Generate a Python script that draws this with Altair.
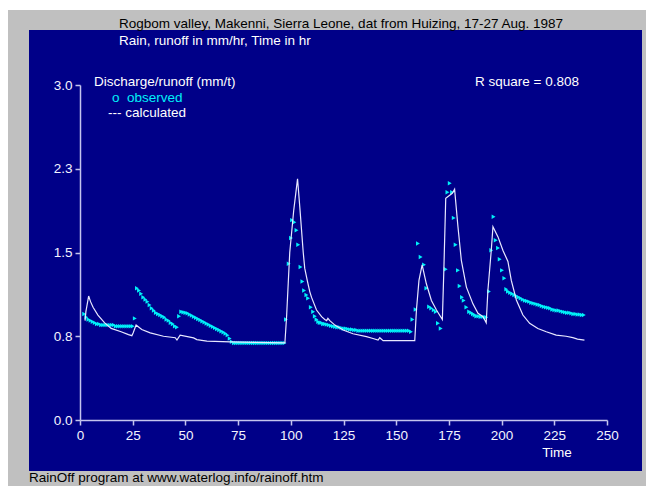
import altair as alt
import pandas as pd

# ---------------- observed discharge (mm/hr) ----------------
obs_hours_a = list(range(2, 98))
obs_values_a = [
    0.95, 0.92, 0.90, 0.89, 0.88, 0.87, 0.86, 0.86, 0.85, 0.85,
    0.85, 0.85, 0.85, 0.85, 0.85, 0.84, 0.84, 0.84, 0.84, 0.84,
    0.84, 0.84, 0.84, 0.84, 0.91, 1.18, 1.16, 1.13, 1.10, 1.08,
    1.06, 1.03, 1.00, 0.98, 0.96, 0.95, 0.94, 0.93, 0.92, 0.90,
    0.89, 0.87, 0.86, 0.84, 0.83, 0.93, 0.97, 0.965, 0.96, 0.955,
    0.945, 0.935, 0.925, 0.915, 0.905, 0.895, 0.885, 0.875, 0.865, 0.855,
    0.845, 0.835, 0.825, 0.815, 0.805, 0.795, 0.785, 0.775, 0.76, 0.73,
    0.70, 0.69, 0.69, 0.69, 0.69, 0.69, 0.69, 0.69, 0.69, 0.69,
    0.69, 0.69, 0.69, 0.69, 0.69, 0.69, 0.69, 0.69, 0.69, 0.69,
    0.69, 0.69, 0.69, 0.69, 0.69, 0.69,
]
obs_time_b = [97.7, 99.0, 100.1, 100.6, 101.7, 102.7, 103.5, 104.6, 105.5, 106.3,
              107.4, 108.2, 109.5, 110.6, 111.4, 112.2, 113.0, 113.7, 114.5, 115.3,
              116.1, 117.0, 118.0]
obs_values_b = [0.90, 1.40, 1.63, 1.79, 1.77, 1.70, 1.57, 1.37, 1.24, 1.16,
                1.12, 1.09, 1.01, 0.97, 0.93, 0.90, 0.88, 0.87, 0.87, 0.86,
                0.86, 0.855, 0.85]
obs_hours_c = list(range(119, 157))
obs_values_c = [
    0.845, 0.84, 0.835, 0.83, 0.83, 0.825, 0.82, 0.82, 0.815, 0.81,
    0.81, 0.805, 0.805, 0.80, 0.80, 0.80, 0.80, 0.80, 0.80, 0.80,
    0.80, 0.80, 0.80, 0.80, 0.80, 0.80, 0.80, 0.80, 0.80, 0.80,
    0.80, 0.80, 0.80, 0.80, 0.80, 0.80, 0.80, 0.80,
]
obs_time_d = [157.0, 157.7, 159.2, 160.3, 161.6, 163.2, 164.3, 165.6, 166.6, 167.8,
              168.8, 169.8, 171.1, 173.5, 174.3, 175.4, 176.5, 177.3, 178.2, 179.3,
              180.1, 181.2, 182.0, 183.3, 184.6, 185.5, 186.4, 187.2, 188.0, 189.0,
              190.0, 191.0, 192.0, 192.7, 194.0, 195.1, 196.2, 197.2, 198.3, 199.1,
              200.2, 201.3, 202.2]
obs_values_d = [0.79, 0.90, 0.99, 1.58, 1.46, 1.39, 1.18, 1.015, 1.00, 0.985,
                0.97, 0.866, 0.82, 1.35, 2.04, 2.12, 2.04, 1.81, 1.57, 1.34,
                1.20, 1.10, 1.07, 1.01, 0.97, 0.96, 0.95, 0.94, 0.93, 0.93,
                0.925, 0.925, 0.92, 0.92, 1.15, 1.52, 1.82, 1.61, 1.54, 1.44,
                1.34, 1.27, 1.17]
obs_hours_e = list(range(203, 240))
obs_values_e = [
    1.15, 1.14, 1.13, 1.12, 1.11, 1.10, 1.09, 1.08, 1.07, 1.065,
    1.06, 1.05, 1.045, 1.04, 1.035, 1.03, 1.02, 1.015, 1.01, 1.005,
    1.00, 0.99, 0.985, 0.98, 0.98, 0.975, 0.97, 0.965, 0.96, 0.96,
    0.955, 0.95, 0.95, 0.945, 0.945, 0.94, 0.94,
]

# ---------------- calculated discharge (mm/hr) ----------------
calc_time = [
    2.4, 2.8, 4.1, 5.0, 6.2, 8.5, 11.7, 14.8, 19.5, 23.0,
    24.6, 25.2, 26.6, 29.3, 33.3, 39.6, 45.2, 46.0, 47.5, 53.9,
    55.4, 60.2, 71.3, 97.2, 98.0, 99.5, 101.4, 103.2, 104.3, 105.9,
    106.6, 107.8, 109.0, 109.8, 112.2, 114.6, 116.1, 117.0, 117.6, 118.5,
    120.9, 124.8, 129.5, 135.9, 139.0, 141.4, 142.2, 143.8, 158.8, 159.6,
    160.8, 162.3, 164.3, 166.7, 169.1, 171.9, 172.6, 173.5, 176.6, 177.7,
    179.3, 180.9, 183.3, 186.4, 188.8, 191.2, 192.7, 193.5, 195.1, 195.9,
    198.3, 200.6, 203.0, 204.6, 207.0, 210.1, 213.3, 217.2, 221.2, 225.9,
    230.6, 233.8, 236.0, 239.3,
]
calc_value = [
    0.89, 0.97, 1.11, 1.06, 1.01, 0.94, 0.87, 0.82, 0.79, 0.765,
    0.755, 0.78, 0.85, 0.81, 0.78, 0.75, 0.737, 0.716, 0.76, 0.735,
    0.72, 0.707, 0.70, 0.69, 0.925, 1.50, 1.88, 2.16, 1.90, 1.50,
    1.36, 1.25, 1.15, 1.10, 0.985, 0.925, 0.90, 0.89, 0.91, 0.89,
    0.85, 0.806, 0.772, 0.746, 0.73, 0.716, 0.737, 0.71, 0.71, 0.985,
    1.25, 1.39, 1.22, 1.07, 0.985, 0.90, 1.34, 1.985, 2.03, 2.066,
    1.73, 1.43, 1.19, 1.04, 0.955, 0.925, 0.87, 1.16, 1.52, 1.73,
    1.64, 1.52, 1.42, 1.25, 1.075, 0.94, 0.866, 0.82, 0.79, 0.76,
    0.75, 0.737, 0.725, 0.716,
]

y_ticks = [0, 0.75, 1.5, 2.25, 3.0]
x_ticks = [0, 25, 50, 75, 100, 125, 150, 175, 200, 225, 250]

title_1 = "Rogbom valley, Makenni, Sierra Leone, dat from Huizing, 17-27 Aug. 1987"
title_2 = "Rain, runoff in mm/hr, Time in hr"
legend_head = "Discharge/runoff (mm/t)"
legend_obs = "o\u00a0\u00a0observed"
legend_calc = "--- calculated"
r_square = "R square = 0.808"
x_title = "Time"
footer = "RainOff program at www.waterlog.info/rainoff.htm"

FONT = "Liberation Sans"
FS = 13.5
NAVY = "#000088"
GRAY = "#c0c0c0"
AXIS = "#c4c4ee"
CYAN = "#00f0f8"
LINE = "#e8e8ff"

obs = pd.DataFrame({
    "t": obs_hours_a + obs_time_b + obs_hours_c + obs_time_d + obs_hours_e,
    "v": obs_values_a + obs_values_b + obs_values_c + obs_values_d + obs_values_e,
})
calc = pd.DataFrame({"t": calc_time, "v": calc_value})
one = pd.DataFrame({"a": [0]})

W, H = 527, 335

xs = alt.Scale(domain=[0, 250], nice=False, zero=False)
ys = alt.Scale(domain=[0, 3], nice=False, zero=False)

axis_style = dict(
    domainColor=AXIS, tickColor=AXIS, labelColor="#f4f4ff", labelFont=FONT,
    labelFontSize=FS, grid=False, tickSize=5, labelPadding=3,
    domainWidth=1.5, tickWidth=1.5, zindex=2, title=None, labelFlush=False,
)

gray_bg = alt.Chart(one).mark_rect(color=GRAY).encode(
    x=alt.value(-72), x2=alt.value(566), y=alt.value(-75), y2=alt.value(402))
navy_bg = alt.Chart(one).mark_rect(color=NAVY).encode(
    x=alt.value(-51), x2=alt.value(562), y=alt.value(-55), y2=alt.value(386))


def label(text, x, y, color, align="left"):
    return alt.Chart(one).mark_text(
        text=text, font=FONT, fontSize=FS, color=color, align=align,
        baseline="middle").encode(x=alt.value(x), y=alt.value(y))


texts = [
    label(title_1, 39, -61, "#000000"),
    label(title_2, 39, -44, "#ffffff"),
    label(legend_head, 14, -3, "#ffffff"),
    label(legend_obs, 32, 13, CYAN),
    label(legend_calc, 28, 28, "#ffffff"),
    label(r_square, 395, -3, "#ffffff"),
    label(x_title, 477, 368, "#ffffff", "center"),
    label(footer, -51, 393, "#000000"),
]

points = alt.Chart(obs).mark_point(
    shape="triangle-right", filled=True, size=20, color=CYAN, opacity=1
).encode(
    x=alt.X("t:Q", scale=xs, axis=alt.Axis(values=x_ticks, format="d", **axis_style)),
    y=alt.Y("v:Q", scale=ys, axis=alt.Axis(values=y_ticks, format=".1f", **axis_style)),
)

line = alt.Chart(calc).mark_line(color=LINE, strokeWidth=1.2).encode(
    x=alt.X("t:Q", scale=xs),
    y=alt.Y("v:Q", scale=ys),
)

chart = alt.layer(gray_bg, navy_bg, *texts, points, line).properties(
    width=W, height=H,
    autosize=alt.AutoSizeParams(type="none"),
    padding={"left": 72, "top": 77, "right": 39, "bottom": 66},
    background="#ffffff",
).configure_view(stroke=None)

chart.save("out.html", embed_options={"renderer": "svg", "actions": False})
